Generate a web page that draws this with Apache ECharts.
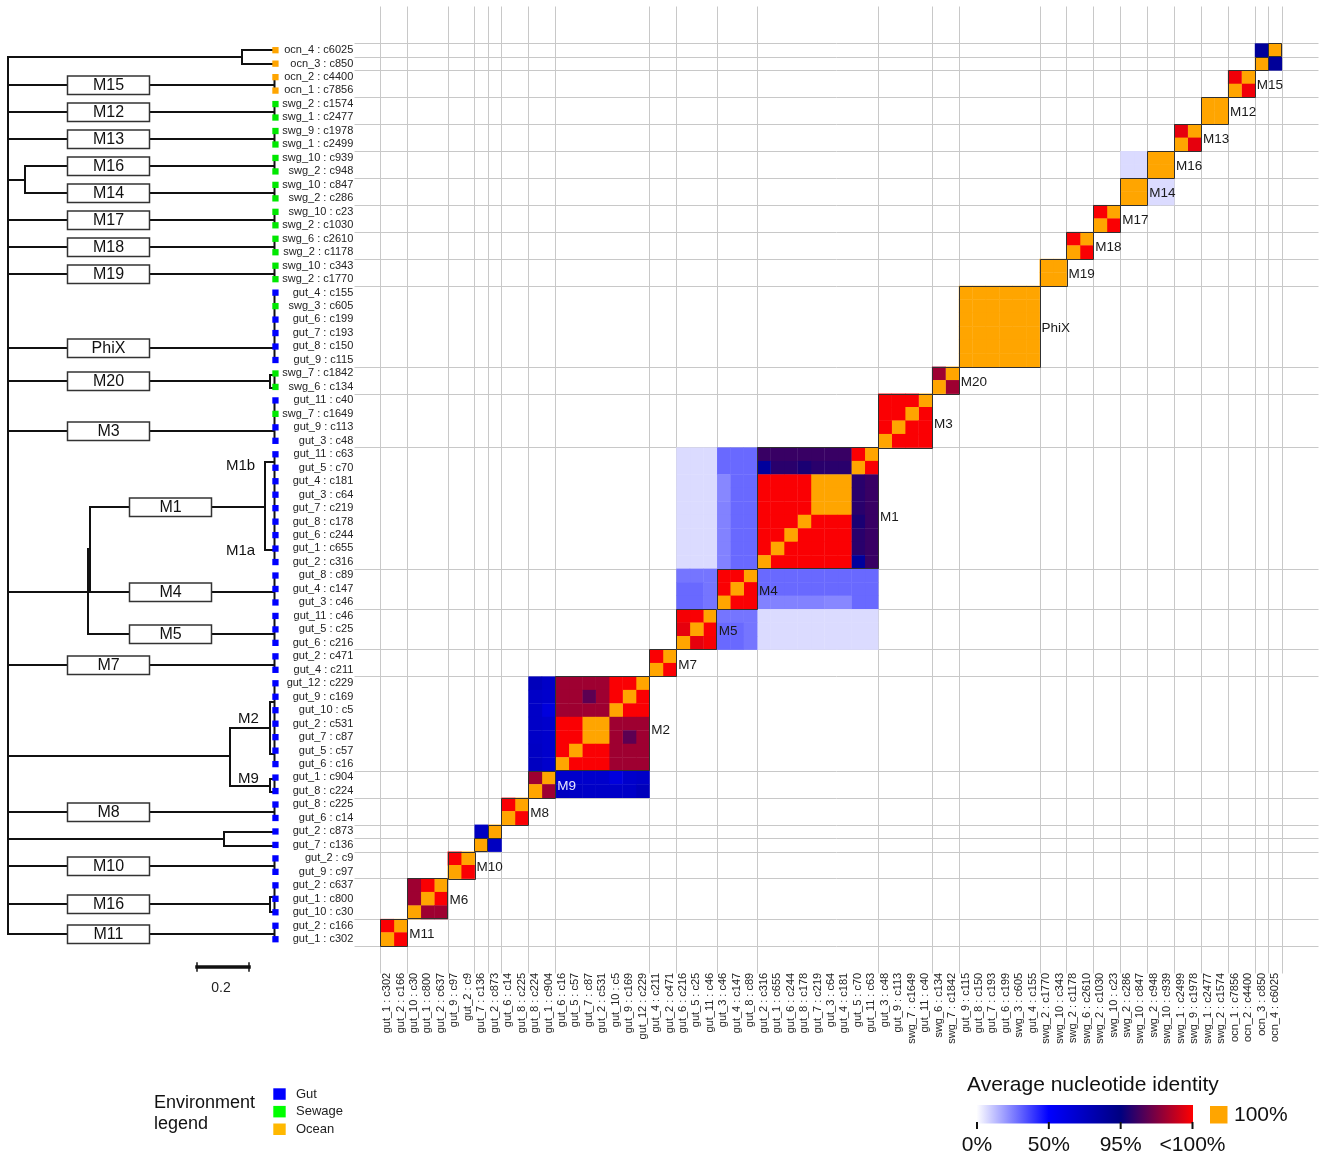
<!DOCTYPE html>
<html>
<head>
<meta charset="utf-8">
<script src="https://cdn.jsdelivr.net/npm/echarts@6/dist/echarts.min.js"></script>
<style>
  html, body { margin: 0; padding: 0; background: #ffffff; }
  #chart { width: 1325px; height: 1156px; }
</style>
</head>
<body>
<div id="chart"></div>
<script>
// Genomes in row order (top to bottom); columns run in the reverse order.
const genomes = [
  'ocn_4 : c6025', 'ocn_3 : c850', 'ocn_2 : c4400', 'ocn_1 : c7856',
  'swg_2 : c1574', 'swg_1 : c2477', 'swg_9 : c1978', 'swg_1 : c2499',
  'swg_10 : c939', 'swg_2 : c948', 'swg_10 : c847', 'swg_2 : c286',
  'swg_10 : c23', 'swg_2 : c1030', 'swg_6 : c2610', 'swg_2 : c1178',
  'swg_10 : c343', 'swg_2 : c1770',
  'gut_4 : c155', 'swg_3 : c605', 'gut_6 : c199', 'gut_7 : c193', 'gut_8 : c150', 'gut_9 : c115',
  'swg_7 : c1842', 'swg_6 : c134',
  'gut_11 : c40', 'swg_7 : c1649', 'gut_9 : c113', 'gut_3 : c48',
  'gut_11 : c63', 'gut_5 : c70', 'gut_4 : c181', 'gut_3 : c64', 'gut_7 : c219',
  'gut_8 : c178', 'gut_6 : c244', 'gut_1 : c655', 'gut_2 : c316',
  'gut_8 : c89', 'gut_4 : c147', 'gut_3 : c46',
  'gut_11 : c46', 'gut_5 : c25', 'gut_6 : c216',
  'gut_2 : c471', 'gut_4 : c211',
  'gut_12 : c229', 'gut_9 : c169', 'gut_10 : c5', 'gut_2 : c531', 'gut_7 : c87', 'gut_5 : c57', 'gut_6 : c16',
  'gut_1 : c904', 'gut_8 : c224',
  'gut_8 : c225', 'gut_6 : c14',
  'gut_2 : c873', 'gut_7 : c136',
  'gut_2 : c9', 'gut_9 : c97',
  'gut_2 : c637', 'gut_1 : c800', 'gut_10 : c30',
  'gut_2 : c166', 'gut_1 : c302'
];

// Clusters along the diagonal: name, first row, number of genomes
const groupNames = ['', '', 'M15', 'M12', 'M13', 'M16', 'M14', 'M17', 'M18', 'M19', 'PhiX', 'M20', 'M3',
  'M1', 'M4', 'M5', 'M7', 'M2', 'M9', 'M8', '', '', 'M10', 'M6', 'M11'];
const groupFirst = [0, 1, 2, 4, 6, 8, 10, 12, 14, 16, 18, 24, 26, 30, 39, 42, 45, 47, 54, 56, 58, 59, 60, 62, 65];
const groupSize  = [1, 1, 2, 2, 2, 2, 2, 2, 2, 2, 6, 2, 4, 9, 3, 3, 2, 7, 2, 2, 1, 1, 2, 3, 2];

// Average nucleotide identity (%) inside each cluster; 100 = identical
const aniOcn4 = [[100]];
const aniOcn3 = [[100]];
const aniM15 = [[100, 99.7], [99.7, 100]];
const aniM12 = [[100, 100], [100, 100]];
const aniM13 = [[100, 99.5], [99.5, 100]];
const aniM16 = [[100, 100], [100, 100]];
const aniM14 = [[100, 100], [100, 100]];
const aniM17 = [[100, 99.9], [99.9, 100]];
const aniM18 = [[100, 99.9], [99.9, 100]];
const aniM19 = [[100, 100], [100, 100]];
const aniPhiX = [
  [100, 100, 100, 100, 100, 100],
  [100, 100, 100, 100, 100, 100],
  [100, 100, 100, 100, 100, 100],
  [100, 100, 100, 100, 100, 100],
  [100, 100, 100, 100, 100, 100],
  [100, 100, 100, 100, 100, 100]
];
const aniM20 = [[100, 98.1], [98.1, 100]];
const aniM3 = [
  [100, 99.9, 99.9, 99.9],
  [99.9, 100, 99.9, 99.9],
  [99.9, 99.9, 100, 99.9],
  [99.9, 99.9, 99.9, 100]
];
const aniM1 = [
  [100, 99.9, 96.1, 96.1, 96.1, 96.1, 96.1, 96.1, 96.1],
  [99.9, 100, 95.8, 95.8, 95.8, 95.5, 95.8, 95.8, 85],
  [96.1, 95.8, 100, 100, 100, 99.9, 99.9, 99.9, 99.9],
  [96.1, 95.8, 100, 100, 100, 99.9, 99.9, 99.9, 99.9],
  [96.1, 95.8, 100, 100, 100, 99.9, 99.9, 99.9, 99.9],
  [96.1, 95.5, 99.9, 99.9, 99.9, 100, 99.9, 99.9, 99.9],
  [96.1, 95.8, 99.9, 99.9, 99.9, 99.9, 100, 99.9, 99.9],
  [96.1, 95.8, 99.9, 99.9, 99.9, 99.9, 99.9, 100, 99.9],
  [96.1, 85, 99.9, 99.9, 99.9, 99.9, 99.9, 99.9, 100]
];
const aniM4 = [
  [100, 99.9, 99.9],
  [99.9, 100, 99.9],
  [99.9, 99.9, 100]
];
const aniM5 = [
  [100, 99.9, 99.8],
  [99.9, 100, 99.5],
  [99.8, 99.5, 100]
];
const aniM7 = [[100, 99.9], [99.9, 100]];
const aniM2 = [
  [100, 99.9, 99.9, 98.1, 98.1, 98.1, 98.1],
  [99.9, 100, 99.9, 98.1, 96.8, 98.1, 98.1],
  [99.9, 99.9, 100, 98.1, 98.1, 98.1, 98.1],
  [98.1, 98.1, 98.1, 100, 100, 99.9, 99.9],
  [98.1, 96.8, 98.1, 100, 100, 99.9, 99.9],
  [98.1, 98.1, 98.1, 99.9, 99.9, 100, 99.9],
  [98.1, 98.1, 98.1, 99.9, 99.9, 99.9, 100]
];
const aniM9 = [[100, 98.1], [98.1, 100]];
const aniM8 = [[100, 99.9], [99.9, 100]];
const aniC873 = [[100]];
const aniC136 = [[100]];
const aniM10 = [[100, 99.9], [99.9, 100]];
const aniM6 = [
  [100, 99.9, 98.1],
  [99.9, 100, 98.1],
  [98.1, 98.1, 100]
];
const aniM11 = [[100, 99.9], [99.9, 100]];

const groupANI = [aniOcn4, aniOcn3, aniM15, aniM12, aniM13, aniM16, aniM14, aniM17, aniM18, aniM19,
  aniPhiX, aniM20, aniM3, aniM1, aniM4, aniM5, aniM7, aniM2, aniM9, aniM8, aniC873, aniC136,
  aniM10, aniM6, aniM11];

// ANI between clusters (rows of the first cluster x rows of the second)
const aniOcn4xOcn3 = [[86]];
const aniM16xM14 = [[7, 7], [7, 7]];
const aniM1xM4 = [
  [29.5, 29.5, 29.5],
  [29.5, 29.5, 29.5],
  [29.5, 29.5, 23.5],
  [29.5, 29.5, 23.5],
  [29.5, 29.5, 24.5],
  [29.5, 29.5, 24.5],
  [29.5, 29.5, 24.5],
  [29.5, 29.5, 24.5],
  [29.5, 29.5, 24.5]
];
const aniM1xM5 = [
  [7, 7, 7], [7, 7, 7], [7, 7, 7], [7, 7, 7], [7, 7, 7],
  [7, 7, 7], [7, 7, 7], [7, 7, 7], [7, 7, 7]
];
const aniM4xM5 = [
  [27, 27, 27],
  [27, 29.5, 29.5],
  [27, 29.5, 29.5]
];
const aniM2xM9 = [
  [70, 74],
  [68, 70],
  [62, 70],
  [68, 70],
  [68, 70],
  [68, 71],
  [68, 72]
];
const aniC873xC136 = [[72]];

// [cluster index A, cluster index B, matrix]
const crossANI = [
  [0, 1, aniOcn4xOcn3],
  [5, 6, aniM16xM14],
  [13, 14, aniM1xM4],
  [13, 15, aniM1xM5],
  [14, 15, aniM4xM5],
  [17, 18, aniM2xM9],
  [20, 21, aniC873xC136]
];

// Environment colour per sample prefix
const envNames = ['Gut', 'Sewage', 'Ocean'];
const envColors = { gut: '#0000ff', swg: '#00e800', ocn: '#ffa500' };
const envLegendColors = ['#0000ff', '#00ff00', '#ffb800'];

// Colour scale for ANI: 0% → 50% → 95% → <100%, and identical genomes in orange
const aniStops = [0, 50, 95, 100];
const aniStopColors = [[255, 255, 255], [0, 0, 255], [0, 0, 128], [255, 0, 0]];
const identicalColor = '#ffa500';
const scaleTickLabels = ['0%', '50%', '95%', '<100%'];

function aniColor(v) {
  if (v >= 100) return identicalColor;
  for (let k = 1; k < aniStops.length; k++) {
    if (v <= aniStops[k]) {
      const t = (v - aniStops[k - 1]) / (aniStops[k] - aniStops[k - 1]);
      const a = aniStopColors[k - 1], b = aniStopColors[k];
      const c = a.map((x, i) => Math.round(x + (b[i] - x) * t));
      return 'rgb(' + c.join(',') + ')';
    }
  }
  return 'rgb(255,0,0)';
}

const N = genomes.length;
const colLabels = genomes.slice().reverse();
const colOf = r => N - 1 - r;

// Build heatmap cells [column, row, ani]
const cells = [];
groupANI.forEach((m, g) => {
  const f = groupFirst[g];
  m.forEach((row, i) => row.forEach((v, j) => cells.push([colOf(f + j), f + i, v])));
});
crossANI.forEach(([ga, gb, m]) => {
  const fa = groupFirst[ga], fb = groupFirst[gb];
  m.forEach((row, i) => row.forEach((v, j) => {
    cells.push([colOf(fb + j), fa + i, v]);
    cells.push([colOf(fa + i), fb + j, v]);
  }));
});

const FONT = 'Liberation Sans, Arial, Helvetica, sans-serif';
const chart = echarts.init(document.getElementById('chart'));

chart.setOption({
  animation: false,
  backgroundColor: '#ffffff',
  grid: { left: 380.3, top: 43.3, width: 901.4, height: 902.5 },
  xAxis: {
    type: 'category', data: colLabels,
    axisLine: { show: false }, axisTick: { show: false }, splitLine: { show: false },
    axisLabel: { interval: 0, rotate: 90, margin: 27, fontSize: 11, color: '#222', fontFamily: FONT }
  },
  yAxis: {
    type: 'category', data: genomes, inverse: true,
    axisLine: { show: false }, axisTick: { show: false }, splitLine: { show: false },
    axisLabel: { interval: 0, margin: 27, fontSize: 11, color: '#222', fontFamily: FONT }
  },
  series: [{
    type: 'custom',
    z: 2,
    data: cells,
    encode: { x: 0, y: 1 },
    renderItem: function (params, api) {
      const c = api.coord([api.value(0), api.value(1)]);
      const s = api.size([1, 1]);
      return {
        type: 'rect',
        shape: { x: c[0] - s[0] / 2, y: c[1] - s[1] / 2, width: s[0] + 0.4, height: s[1] + 0.4 },
        style: { fill: aniColor(api.value(2)) }
      };
    }
  }]
});

// ---- Overlays: grid lines, cluster outlines, tree, legends ----
const p0 = chart.convertToPixel({ gridIndex: 0 }, [0, 0]);
const p1 = chart.convertToPixel({ gridIndex: 0 }, [1, 1]);
const cw = p1[0] - p0[0], ch = p1[1] - p0[1];
const edgeX = c => p0[0] - cw / 2 + c * cw;      // left edge of column c
const edgeY = r => p0[1] - ch / 2 + r * ch;      // top edge of row r
const rowY = r => p0[1] + r * ch;
const half = v => Math.round(v) + 0.5;

const G = [];
const line = (x1, y1, x2, y2, stroke, w, z) =>
  G.push({ type: 'line', z: z, silent: true, shape: { x1, y1, x2, y2 }, style: { stroke, lineWidth: w, lineCap: 'square' } });
const text = (x, y, s, size, align, color, z) =>
  G.push({ type: 'text', z: z || 20, silent: true,
    style: { x, y, text: s, font: size + 'px ' + FONT, fill: color || '#111', textAlign: align || 'left', textVerticalAlign: 'middle' } });

// light separators between clusters
const bounds = groupFirst.concat([N]);
bounds.forEach(b => {
  const y = half(edgeY(b));
  line(355, y, 1318, y, '#c8c8c8', 1, 0);
  const x = half(edgeX(N - b));
  line(x, 7, x, 973, '#c8c8c8', 1, 0);
});

// cluster outlines and names
const labelNudge = { M1: 9, M2: 7, M3: 4 };
groupFirst.forEach((f, g) => {
  const n = groupSize[g];
  const x0 = edgeX(N - f - n), x1 = edgeX(N - f);
  const y0 = edgeY(f), y1 = edgeY(f + n);
  G.push({ type: 'rect', z: 10, silent: true,
    shape: { x: half(x0), y: half(y0), width: Math.round(x1 - x0), height: Math.round(y1 - y0) },
    style: { fill: 'none', stroke: '#303030', lineWidth: 1 } });
  const name = groupNames[g];
  if (name) {
    const dy = (labelNudge[name] !== undefined ? labelNudge[name] : 2);
    text(x1 + 2, (y0 + y1) / 2 + dy, name, 13.5, 'left', name === 'M9' ? '#e6e6ff' : '#1a1a1a', 12);
  }
});

// dendrogram
const TREE = '#111111';
const treeLines = [
  [8, 57, 8, 934],
  [8, 57, 242, 57], [242, 50, 242, 64], [242, 50, 272, 50], [242, 64, 272, 64],
  [8, 85, 67, 85], [149, 85, 274, 85],
  [8, 112, 67, 112], [149, 112, 274, 112],
  [8, 139, 67, 139], [149, 139, 274, 139],
  [8, 180, 25, 180], [25, 166, 25, 193], [25, 166, 67, 166], [149, 166, 274, 166],
  [25, 193, 67, 193], [149, 193, 274, 193],
  [8, 220, 67, 220], [149, 220, 274, 220],
  [8, 247, 67, 247], [149, 247, 274, 247],
  [8, 274, 67, 274], [149, 274, 274, 274],
  [8, 348, 67, 348], [149, 348, 274, 348],
  [8, 381, 67, 381], [149, 381, 270, 381], [270, 375, 270, 388], [270, 375, 274, 375], [270, 388, 274, 388],
  [8, 431, 67, 431], [149, 431, 274, 431],
  [8, 592, 88, 592], [88, 549, 88, 634], [88, 549, 90, 549], [90, 507, 90, 592],
  [90, 507, 129, 507], [211, 507, 265, 507], [265, 462, 265, 550], [265, 462, 274, 462], [265, 550, 274, 550],
  [90, 592, 129, 592], [211, 592, 274, 592],
  [88, 634, 129, 634], [211, 634, 274, 634],
  [8, 665, 67, 665], [149, 665, 274, 665],
  [8, 756, 230, 756], [230, 728, 230, 786], [230, 728, 270, 728],
  [270, 702, 270, 754], [270, 702, 274, 702], [270, 754, 274, 754],
  [230, 786, 270, 786], [270, 779, 270, 792], [270, 779, 274, 779], [270, 792, 274, 792],
  [8, 812, 67, 812], [149, 812, 274, 812],
  [8, 839, 224, 839], [224, 832, 224, 846], [224, 832, 272, 832], [224, 846, 272, 846],
  [8, 866, 67, 866], [149, 866, 274, 866],
  [8, 904, 67, 904], [149, 904, 270, 904], [270, 897, 270, 912], [270, 897, 274, 897], [270, 912, 274, 912],
  [8, 934, 67, 934], [149, 934, 274, 934]
];
treeLines.forEach(s => line(s[0], s[1], s[2], s[3], TREE, 2, 5));

// leaf connectors for multi-genome clusters
groupFirst.forEach((f, g) => {
  if (groupSize[g] > 1) line(274.5, rowY(f), 274.5, rowY(f + groupSize[g] - 1), TREE, 2, 5);
});

// cluster boxes on the tree
const treeBoxes = [
  ['M15', 67, 85], ['M12', 67, 112], ['M13', 67, 139], ['M16', 67, 166], ['M14', 67, 193],
  ['M17', 67, 220], ['M18', 67, 247], ['M19', 67, 274], ['PhiX', 67, 348], ['M20', 67, 381],
  ['M3', 67, 431], ['M1', 129, 507], ['M4', 129, 592], ['M5', 129, 634], ['M7', 67, 665],
  ['M8', 67, 812], ['M10', 67, 866], ['M16', 67, 904], ['M11', 67, 934]
];
treeBoxes.forEach(([name, x, y]) => {
  G.push({ type: 'rect', z: 6, silent: true,
    shape: { x: x + 0.5, y: y - 9, width: 82, height: 18.5 },
    style: { fill: '#ffffff', stroke: '#333333', lineWidth: 1.5 } });
  text(x + 41.5, y + 0.5, name, 16, 'center', '#111', 7);
});
text(226, 466, 'M1b', 15, 'left');
text(226, 551, 'M1a', 15, 'left');
text(238, 719, 'M2', 15, 'left');
text(238, 779, 'M9', 15, 'left');

// environment squares beside the labels
genomes.forEach((gname, r) => {
  const env = gname.split('_')[0];
  const y = rowY(r);
  G.push({ type: 'rect', z: 8, silent: true, shape: { x: 272.3, y: y - 3, width: 6.3, height: 6.3 },
    style: { fill: envColors[env] } });
});

// scale bar
line(197, 967, 249, 967, '#111', 3.5, 5);
line(197, 963, 197, 971, '#111', 1.5, 5);
line(249, 963, 249, 971, '#111', 1.5, 5);
text(221, 988, '0.2', 14, 'center', '#222');

// environment legend
text(154, 1103, 'Environment', 18, 'left', '#111');
text(154, 1124, 'legend', 18, 'left', '#111');
envNames.forEach((nm, i) => {
  const y = 1088.3 + i * 17.6;
  G.push({ type: 'rect', z: 8, silent: true, shape: { x: 273.3, y: y, width: 12.4, height: 11.5 },
    style: { fill: envLegendColors[i] } });
  text(296, y + 6, nm, 13, 'left', '#222');
});

// ANI colour legend
text(967, 1085, 'Average nucleotide identity', 21, 'left', '#111');
const barX0 = 976.5, barX1 = 1193, barY = 1105;
G.push({ type: 'rect', z: 8, silent: true, shape: { x: barX0, y: barY, width: barX1 - barX0, height: 18.5 },
  style: { fill: { type: 'linear', x: 0, y: 0, x2: 1, y2: 0, colorStops: [
    { offset: 0, color: '#ffffff' }, { offset: 1 / 3, color: '#0000ff' },
    { offset: 2 / 3, color: '#000080' }, { offset: 1, color: '#ff0000' }] } } });
scaleTickLabels.forEach((lab, i) => {
  const x = barX0 + 0.5 + i * (barX1 - barX0 - 1) / 3;
  line(x, 1123, x, 1128, '#111', 2, 9);
  text(x, 1145, lab, 21, 'center', '#111');
});
G.push({ type: 'rect', z: 8, silent: true, shape: { x: 1210, y: 1106, width: 17.5, height: 17.5 },
  style: { fill: identicalColor } });
text(1234, 1115, '100%', 21, 'left', '#111');

chart.setOption({ graphic: { elements: G } });
</script>
</body>
</html>
